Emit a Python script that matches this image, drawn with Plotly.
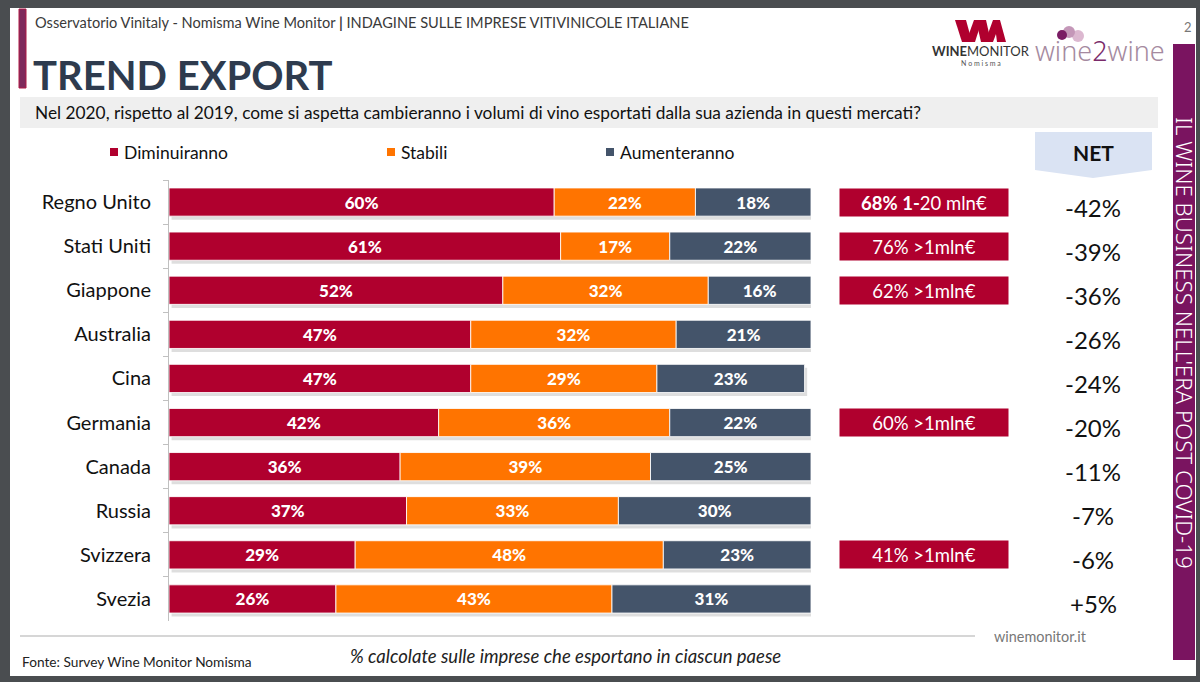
import plotly.graph_objects as go

# ---------------- data ----------------
countries = ["Regno Unito", "Stati Uniti", "Giappone", "Australia", "Cina",
             "Germania", "Canada", "Russia", "Svizzera", "Svezia"]
diminuiranno = [60, 61, 52, 47, 47, 42, 36, 37, 29, 26]
stabili = [22, 17, 32, 32, 29, 36, 39, 33, 48, 43]
aumenteranno = [18, 22, 16, 21, 23, 22, 25, 30, 23, 31]
series_names = ["Diminuiranno", "Stabili", "Aumenteranno"]
series_colors = ["#b0002e", "#ff7400", "#44546a"]

box_countries = ["Regno Unito", "Stati Uniti", "Giappone", "Germania", "Svizzera"]
box_texts = ["<b>68% 1-</b>20 mln€", "76% &gt;1mln€", "62% &gt;1mln€", "60% &gt;1mln€", "41% &gt;1mln€"]

net_values = [a - d for a, d in zip(aumenteranno, diminuiranno)]

FONT = "Lato"

# ---------------- figure geometry (pixels) ----------------
W, H = 1200, 682
PL, PR, PT, PB = 169, 811, 180, 621
BAR_W = 0.64


def xp(px):
    return (px - PL) / (PR - PL)


def yp(py):
    return (PB - py) / (PB - PT)


series = [diminuiranno, stabili, aumenteranno]
totals = [sum(t) for t in zip(*series)]
bases = [[0] * len(countries),
         list(diminuiranno),
         [d + s for d, s in zip(diminuiranno, stabili)]]

fig = go.Figure()
# soft drop shadow under each bar
fig.add_trace(go.Bar(
    y=countries, x=totals, orientation="h", width=BAR_W, offset=-BAR_W / 2 + 0.08,
    base=[0.4] * len(countries),
    marker=dict(color="rgba(0,0,0,0.13)", line=dict(width=0)),
    showlegend=False, hoverinfo="skip",
))
for name, vals, b, col in zip(series_names, series, bases, series_colors):
    fig.add_trace(go.Bar(
        y=countries, x=vals, base=b, name=name, orientation="h", width=BAR_W,
        marker=dict(color=col, line=dict(color="rgba(255,255,255,0.85)", width=1)),
        texttemplate="%{x:.0f}%", textposition="inside", insidetextanchor="middle",
        textfont=dict(family=FONT, size=17, color="white", weight=900),
        showlegend=False, hoverinfo="skip",
    ))

shapes = []
annotations = []

# slide background
shapes.append(dict(type="rect", xref="paper", yref="paper", layer="below",
                   x0=xp(10), x1=xp(1196), y0=yp(8), y1=yp(676),
                   fillcolor="white", line=dict(width=0)))
# left accent bar
shapes.append(dict(type="rect", xref="paper", yref="paper", layer="below",
                   x0=xp(19), x1=xp(26), y0=yp(9), y1=yp(88),
                   fillcolor="#7e2a5c", line=dict(color="#b01845", width=1)))
# question band
shapes.append(dict(type="rect", xref="paper", yref="paper", layer="below",
                   x0=xp(20), x1=xp(1158), y0=yp(97), y1=yp(128),
                   fillcolor="#efefef", line=dict(width=0)))
# right purple band
shapes.append(dict(type="rect", xref="paper", yref="paper", layer="below",
                   x0=xp(1173), x1=xp(1195), y0=yp(44), y1=yp(660),
                   fillcolor="#7a1460", line=dict(width=0)))
# NET chevron
pts = [(1035, 132), (1152, 132), (1152, 170), (1093, 178), (1035, 170)]
path = "M " + " L ".join(f"{xp(a):.5f},{yp(b):.5f}" for a, b in pts) + " Z"
shapes.append(dict(type="path", xref="paper", yref="paper", layer="below",
                   path=path, fillcolor="#dae3f3", line=dict(width=0)))
# footer line
shapes.append(dict(type="line", xref="paper", yref="paper", layer="below",
                   x0=xp(20), x1=xp(975), y0=yp(636), y1=yp(636),
                   line=dict(color="#d6d6d6", width=2)))

# manual legend
legend_x = [110, 387, 606]
for lx, name, col in zip(legend_x, series_names, series_colors):
    shapes.append(dict(type="rect", xref="paper", yref="paper",
                       x0=xp(lx), x1=xp(lx + 8), y0=yp(148), y1=yp(156),
                       fillcolor=col, line=dict(width=0)))
    annotations.append(dict(xref="paper", yref="paper", x=xp(lx + 12), y=yp(152),
                            xanchor="left", yanchor="middle", showarrow=False,
                            text=name, font=dict(family=FONT, size=17.5, color="#111")))

# red boxes
for c, t in zip(box_countries, box_texts):
    annotations.append(dict(xref="paper", yref="y", x=xp(924), y=c,
                            xanchor="center", yanchor="middle", showarrow=False,
                            text=t, width=166, height=25, bgcolor="#b0002e",
                            borderpad=1, align="center",
                            font=dict(family=FONT, size=18.5, color="white")))

# NET header + values
annotations.append(dict(xref="paper", yref="paper", x=xp(1093), y=yp(153),
                        xanchor="center", yanchor="middle", showarrow=False,
                        text="<b>NET</b>", font=dict(family=FONT, size=21, color="#111")))
for c, v in zip(countries, net_values):
    annotations.append(dict(xref="paper", yref="y", x=xp(1093), y=c, yshift=-5,
                            xanchor="center", yanchor="middle", showarrow=False,
                            text=f"{v:+d}%", font=dict(family=FONT, size=24, color="#111")))

# header texts
annotations.append(dict(xref="paper", yref="paper", x=xp(33), y=yp(22),
                        xanchor="left", yanchor="middle", showarrow=False,
                        text="Osservatorio Vinitaly - Nomisma Wine Monitor <b>|</b> INDAGINE SULLE IMPRESE VITIVINICOLE ITALIANE",
                        font=dict(family=FONT, size=14.6, color="#3a3a3a")))
annotations.append(dict(xref="paper", yref="paper", x=xp(31), y=yp(75),
                        xanchor="left", yanchor="middle", showarrow=False,
                        text="<b>TREND EXPORT</b>",
                        font=dict(family=FONT, size=40, color="#2e3b4e")))
annotations.append(dict(xref="paper", yref="paper", x=xp(33), y=yp(113),
                        xanchor="left", yanchor="middle", showarrow=False,
                        text="Nel 2020, rispetto al 2019, come si aspetta cambieranno i volumi di vino esportati dalla sua azienda in questi mercati?",
                        font=dict(family=FONT, size=17.3, color="#111")))
annotations.append(dict(xref="paper", yref="paper", x=xp(1188), y=yp(27),
                        xanchor="center", yanchor="middle", showarrow=False,
                        text="2", font=dict(family=FONT, size=13, color="#777")))
# vertical band text
annotations.append(dict(xref="paper", yref="paper", x=xp(1185), y=yp(343),
                        xanchor="center", yanchor="middle", showarrow=False, textangle=90,
                        text="IL WINE BUSINESS NELL'ERA POST COVID-19",
                        font=dict(family="Noto Sans", size=22.3, color="white", weight=300)))

# logos (approximate)
wm = [[(955, 20), (966, 20), (972, 42), (962, 42)],
      [(966, 42), (974, 20), (982, 20), (975, 42)],
      [(976, 20), (986, 20), (991, 42), (981, 42)],
      [(985, 42), (993, 20), (1000, 20), (1006, 42), (997, 42), (996, 34), (993, 42)]]
for poly in wm:
    p = "M " + " L ".join(f"{xp(a):.5f},{yp(b):.5f}" for a, b in poly) + " Z"
    shapes.append(dict(type="path", xref="paper", yref="paper", path=p,
                       fillcolor="#b0002e", line=dict(width=0)))
annotations.append(dict(xref="paper", yref="paper", x=xp(981), y=yp(51),
                        xanchor="center", yanchor="middle", showarrow=False,
                        text="<b>WINE</b>MONITOR",
                        font=dict(family=FONT, size=13, color="#333")))
annotations.append(dict(xref="paper", yref="paper", x=xp(981), y=yp(63),
                        xanchor="center", yanchor="middle", showarrow=False,
                        text="N o m i s m a",
                        font=dict(family=FONT, size=7, color="#555")))
for cx, cy, r, col in [(1078, 36, 6, "#dcb8d0"), (1069, 32, 6, "#c497b8"), (1062, 35, 5, "#7a1d64")]:
    shapes.append(dict(type="circle", xref="paper", yref="paper",
                       x0=xp(cx - r), x1=xp(cx + r), y0=yp(cy - r), y1=yp(cy + r),
                       fillcolor=col, line=dict(width=0)))
annotations.append(dict(xref="paper", yref="paper", x=xp(1100), y=yp(50),
                        xanchor="center", yanchor="middle", showarrow=False,
                        text="wine<span style='color:#7a2a6a'>2</span>wine",
                        font=dict(family="Noto Sans", size=27, color="#a58aa0", weight=300)))

# footer texts
annotations.append(dict(xref="paper", yref="paper", x=xp(1040), y=yp(636),
                        xanchor="center", yanchor="middle", showarrow=False,
                        text="winemonitor.it", font=dict(family=FONT, size=14.4, color="#777")))
annotations.append(dict(xref="paper", yref="paper", x=xp(20), y=yp(661),
                        xanchor="left", yanchor="middle", showarrow=False,
                        text="Fonte: Survey Wine Monitor Nomisma",
                        font=dict(family=FONT, size=13.7, color="#222")))
annotations.append(dict(xref="paper", yref="paper", x=xp(565), y=yp(656),
                        xanchor="center", yanchor="middle", showarrow=False,
                        text="<i>% calcolate sulle imprese che esportano in ciascun paese</i>",
                        font=dict(family=FONT, size=18.5, color="#222")))

fig.update_layout(
    width=W, height=H, barmode="overlay",
    margin=dict(l=PL, r=W - PR, t=PT, b=H - PB, pad=0),
    paper_bgcolor="#4a4d50", plot_bgcolor="rgba(0,0,0,0)",
    shapes=shapes, annotations=annotations,
    font=dict(family=FONT),
)
fig.update_xaxes(range=[0, 100], visible=False, fixedrange=True)
fig.update_yaxes(autorange="reversed", categoryorder="array", categoryarray=countries,
                 showline=True, linecolor="#c0c0c0", linewidth=1,
                 ticks="outside", tickson="boundaries", ticklen=5, tickcolor="#c0c0c0",
                 showgrid=False, ticklabelstandoff=13,
                 tickfont=dict(family=FONT, size=20, color="#111"), fixedrange=True)

fig.write_html("out.html")
